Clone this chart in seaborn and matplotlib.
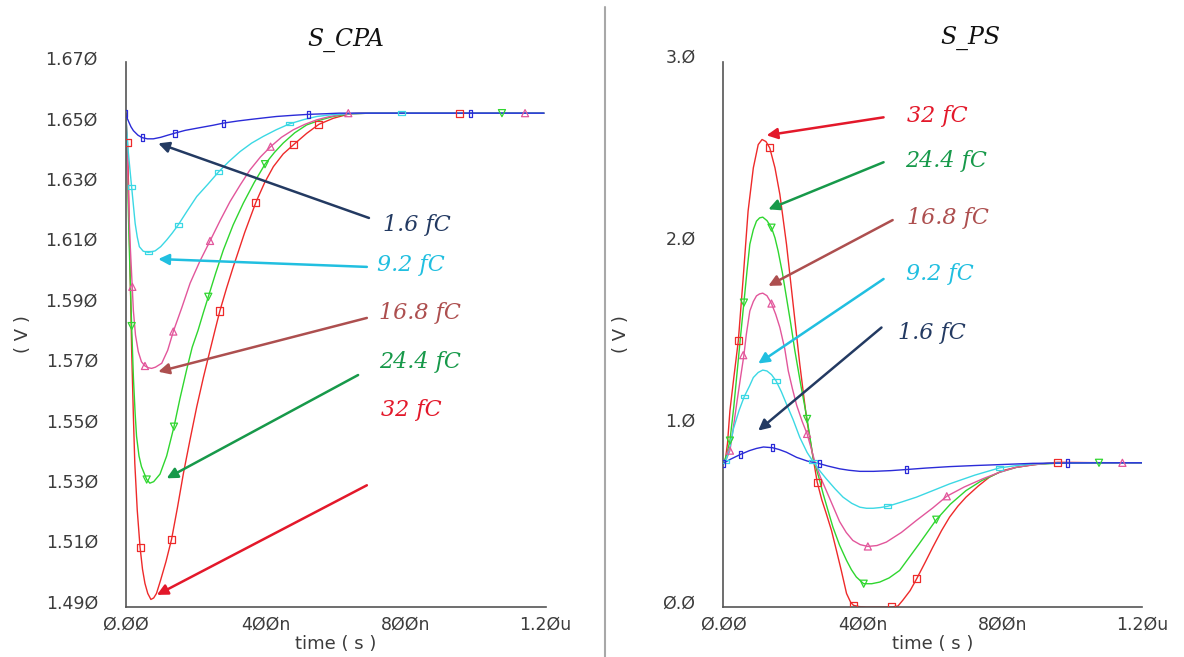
import pandas as pd
import matplotlib
matplotlib.use("Agg")
import matplotlib.pyplot as plt
import seaborn as sns
from matplotlib.ticker import FixedLocator, MultipleLocator
from matplotlib.transforms import ScaledTranslation
from matplotlib.lines import Line2D

# ---- S_CPA (left panel), time in ns, voltage in V ----
L_RED_T = [0, 3, 5, 8, 12, 17, 22, 26, 33, 41, 48, 55, 63, 72, 80, 88, 100, 115, 131, 148, 165, 184, 203,
           222, 241, 257, 269, 288, 307, 340, 372, 397, 422, 450, 479, 517, 552, 593, 641, 700, 800, 900,
           1000, 1100, 1195]
L_RED_V = [1.6535, 1.6480, 1.6437, 1.6300, 1.6050, 1.5750, 1.5530, 1.5376, 1.5220, 1.5098, 1.5025, 1.4978,
           1.4945, 1.4925, 1.4930, 1.4945, 1.4990, 1.5050, 1.5124, 1.5230, 1.5343, 1.5455, 1.5563, 1.5660,
           1.5750, 1.5825, 1.5880, 1.5955, 1.6025, 1.6140, 1.6240, 1.6305, 1.6358, 1.6400, 1.6430, 1.6468,
           1.6498, 1.6518, 1.6533, 1.6535, 1.6535, 1.6535, 1.6535, 1.6535, 1.6535]

L_GREEN_T = [0, 3, 6, 10, 14, 17, 22, 27, 31, 38, 45, 52, 60, 69, 80, 98, 117, 138, 155, 174, 190, 207, 222,
             236, 257, 279, 307, 336, 367, 398, 425, 450, 483, 517, 555, 593, 641, 700, 800, 900, 1000, 1100,
             1195]
L_GREEN_V = [1.6535, 1.6420, 1.6280, 1.6100, 1.5940, 1.5830, 1.5660, 1.5540, 1.5465, 1.5400, 1.5365, 1.5345,
             1.5322, 1.5310, 1.5315, 1.5340, 1.5400, 1.5497, 1.5590, 1.5685, 1.5760, 1.5817, 1.5875, 1.5927,
             1.6005, 1.6082, 1.6165, 1.6237, 1.6305, 1.6366, 1.6405, 1.6436, 1.6470, 1.6496, 1.6512, 1.6524,
             1.6533, 1.6535, 1.6535, 1.6535, 1.6535, 1.6535, 1.6535]

L_PINK_T = [0, 4, 8, 12, 17, 22, 28, 36, 45, 55, 65, 74, 85, 103, 120, 136, 160, 184, 212, 241, 270, 298,
            327, 355, 385, 414, 445, 479, 512, 546, 580, 612, 650, 700, 800, 900, 1000, 1100, 1195]
L_PINK_V = [1.6535, 1.6400, 1.6250, 1.6120, 1.6000, 1.5880, 1.5800, 1.5745, 1.5712, 1.5698, 1.5692, 1.5690,
            1.5694, 1.5707, 1.5750, 1.5812, 1.5890, 1.5972, 1.6045, 1.6112, 1.6180, 1.6242, 1.6297, 1.6347,
            1.6390, 1.6424, 1.6455, 1.6480, 1.6498, 1.6513, 1.6523, 1.6530, 1.6534, 1.6535, 1.6535, 1.6535,
            1.6535, 1.6535, 1.6535]

L_CYAN_T = [0, 3, 7, 12, 17, 22, 27, 33, 39, 50, 65, 84, 100, 117, 133, 150, 175, 203, 235, 265, 295, 327,
            360, 393, 430, 469, 510, 546, 590, 631, 700, 800, 900, 1000, 1100, 1195]
L_CYAN_V = [1.6535, 1.6480, 1.6411, 1.6350, 1.6290, 1.6230, 1.6170, 1.6125, 1.6093, 1.6078, 1.6074, 1.6079,
            1.6093, 1.6115, 1.6138, 1.6165, 1.6210, 1.6259, 1.6300, 1.6340, 1.6375, 1.6408, 1.6436, 1.6458,
            1.6480, 1.6500, 1.6514, 1.6524, 1.6530, 1.6533, 1.6535, 1.6535, 1.6535, 1.6535, 1.6535, 1.6535]

L_BLUE_T = [0, 3, 8, 15, 22, 35, 47, 62, 79, 100, 120, 141, 170, 212, 250, 279, 320, 355, 400, 431, 480,
            522, 570, 610, 700, 800, 900, 1000, 1100, 1195]
L_BLUE_V = [1.6535, 1.6522, 1.6508, 1.6490, 1.6477, 1.6462, 1.6454, 1.6450, 1.6450, 1.6455, 1.6462, 1.6469,
            1.6478, 1.6487, 1.6495, 1.6502, 1.6509, 1.6514, 1.6520, 1.6524, 1.6528, 1.6531, 1.6533, 1.6535,
            1.6535, 1.6535, 1.6535, 1.6535, 1.6535, 1.6535]

# marker points on the left panel
L_RED_MT = [5, 41, 131, 269, 372, 479, 552, 955]
L_RED_MV = [1.6437, 1.5098, 1.5124, 1.5880, 1.6240, 1.6430, 1.6498, 1.6535]
L_GREEN_MT = [17, 60, 138, 236, 398, 1075]
L_GREEN_MV = [1.5830, 1.5322, 1.5497, 1.5927, 1.6366, 1.6535]
L_PINK_MT = [19, 55, 136, 241, 414, 636, 1141]
L_PINK_MV = [1.5960, 1.5698, 1.5812, 1.6112, 1.6424, 1.6535, 1.6535]
L_CYAN_MT = [17, 65, 150, 265, 469, 789]
L_CYAN_MV = [1.6290, 1.6074, 1.6165, 1.6340, 1.6500, 1.6535]
L_BLUE_MT = [0, 47, 141, 279, 522, 986]
L_BLUE_MV = [1.6535, 1.6454, 1.6469, 1.6502, 1.6531, 1.6535]

# ---- S_PS (right panel) ----
R_RED_T = [0, 5, 12, 19, 30, 43, 57, 71, 86, 100, 111, 122, 133, 148, 162, 181, 200, 219, 238, 257, 269,
           282, 295, 310, 324, 338, 353, 365, 373, 390, 410, 440, 481, 500, 514, 535, 554, 578, 600, 625,
           648, 672, 695, 730, 762, 800, 838, 900, 957, 1050, 1200]
R_RED_V = [0.787, 0.796, 0.900, 1.080, 1.260, 1.464, 1.811, 2.177, 2.415, 2.543, 2.571, 2.560, 2.525, 2.415,
           2.269, 1.995, 1.665, 1.336, 1.043, 0.823, 0.686, 0.590, 0.513, 0.420, 0.311, 0.200, 0.074, 0.025,
           0.009, 0.002, 0.000, 0.000, 0.000, 0.005, 0.037, 0.090, 0.156, 0.245, 0.329, 0.420, 0.494, 0.555,
           0.604, 0.665, 0.714, 0.750, 0.768, 0.785, 0.796, 0.794, 0.793]

R_GREEN_T = [0, 10, 19, 30, 40, 50, 59, 68, 76, 86, 95, 104, 113, 125, 138, 148, 157, 169, 181, 193, 205,
             222, 240, 257, 274, 286, 300, 314, 333, 353, 367, 381, 402, 425, 448, 475, 505, 560, 610, 650,
             695, 740, 791, 840, 886, 950, 1076, 1200]
R_GREEN_V = [0.787, 0.840, 0.915, 1.100, 1.300, 1.500, 1.674, 1.850, 1.995, 2.075, 2.122, 2.140, 2.144,
             2.125, 2.086, 2.030, 1.958, 1.840, 1.701, 1.560, 1.409, 1.220, 1.034, 0.823, 0.710, 0.622, 0.530,
             0.439, 0.340, 0.256, 0.205, 0.165, 0.128, 0.128, 0.137, 0.160, 0.201, 0.345, 0.480, 0.565, 0.640,
             0.695, 0.741, 0.768, 0.783, 0.790, 0.793, 0.793]

R_PINK_T = [0, 8, 19, 29, 40, 50, 59, 66, 76, 86, 95, 104, 113, 125, 138, 150, 162, 176, 186, 198, 210,
            226, 240, 252, 262, 278, 295, 314, 333, 352, 371, 392, 414, 440, 467, 510, 553, 600, 640, 690,
            743, 790, 838, 886, 933, 1000, 1100, 1200]
R_PINK_V = [0.787, 0.810, 0.860, 0.990, 1.140, 1.270, 1.385, 1.500, 1.628, 1.680, 1.711, 1.722, 1.726,
            1.712, 1.669, 1.610, 1.537, 1.420, 1.299, 1.200, 1.110, 1.020, 0.952, 0.870, 0.800, 0.715, 0.640,
            0.555, 0.470, 0.410, 0.366, 0.343, 0.333, 0.338, 0.357, 0.410, 0.476, 0.545, 0.609, 0.660, 0.705,
            0.740, 0.768, 0.782, 0.790, 0.793, 0.793, 0.793]

R_CYAN_T = [0, 5, 10, 19, 29, 45, 60, 75, 86, 100, 113, 125, 138, 151, 166, 181, 200, 219, 240, 257, 278,
            295, 320, 343, 368, 391, 410, 429, 450, 471, 510, 553, 600, 648, 720, 791, 840, 886, 950, 1050,
            1200]
R_CYAN_V = [0.787, 0.800, 0.820, 0.880, 0.980, 1.080, 1.157, 1.215, 1.262, 1.290, 1.303, 1.298, 1.278,
            1.244, 1.185, 1.116, 1.030, 0.933, 0.850, 0.800, 0.745, 0.705, 0.650, 0.604, 0.570, 0.549, 0.543,
            0.543, 0.547, 0.554, 0.577, 0.604, 0.640, 0.677, 0.725, 0.765, 0.778, 0.787, 0.791, 0.793, 0.793]

R_BLUE_T = [0, 5, 20, 35, 50, 75, 95, 115, 141, 160, 181, 210, 240, 262, 276, 300, 333, 360, 391, 430, 480,
            524, 580, 648, 720, 791, 886, 986, 1100, 1200]
R_BLUE_V = [0.787, 0.796, 0.812, 0.826, 0.840, 0.860, 0.872, 0.880, 0.876, 0.866, 0.851, 0.823, 0.803,
            0.793, 0.788, 0.775, 0.760, 0.752, 0.746, 0.746, 0.750, 0.756, 0.764, 0.772, 0.778, 0.783, 0.790,
            0.792, 0.793, 0.793]

R_RED_MT = [43, 133, 269, 373, 481, 554, 957]
R_RED_MV = [1.464, 2.525, 0.686, 0.009, 0.000, 0.156, 0.796]
R_GREEN_MT = [19, 59, 138, 240, 402, 610, 1076]
R_GREEN_MV = [0.915, 1.674, 2.086, 1.034, 0.128, 0.480, 0.793]
R_PINK_MT = [19, 57, 138, 240, 414, 640, 1143]
R_PINK_MV = [0.860, 1.385, 1.669, 0.952, 0.333, 0.609, 0.793]
R_CYAN_MT = [5, 60, 151, 257, 471, 791]
R_CYAN_MV = [0.800, 1.157, 1.244, 0.800, 0.554, 0.765]
R_BLUE_MT = [0, 50, 141, 276, 524, 986]
R_BLUE_MV = [0.787, 0.840, 0.876, 0.788, 0.756, 0.792]

CHARGES = ['32 fC', '24.4 fC', '16.8 fC', '9.2 fC', '1.6 fC']
X_TICKS = [0, 400, 800, 1200]
X_TICK_LABELS = ['0.00', '400n', '800n', '1.20u']
L_YTICKS = [1.49, 1.51, 1.53, 1.55, 1.57, 1.59, 1.61, 1.63, 1.65, 1.67]
R_YTICKS = [0.0, 1.0, 2.0, 3.0]

LINE_COLORS = {'32 fC': '#ee2a2a', '24.4 fC': '#2fd62f', '16.8 fC': '#e2569b',
               '9.2 fC': '#3bd8e4', '1.6 fC': '#2b2bd8'}
LABEL_COLORS = {'32 fC': '#e3182a', '24.4 fC': '#17994a', '16.8 fC': '#ad4f4f',
                '9.2 fC': '#21bfe0', '1.6 fC': '#233a62'}
MARKERS = {'32 fC': 's', '24.4 fC': 'v', '16.8 fC': '^',
           '9.2 fC': [(-1, -0.5), (1, -0.5), (1, 0.5), (-1, 0.5), (-1, -0.5)],
           '1.6 fC': [(-0.45, -1), (0.45, -1), (0.45, 1), (-0.45, 1), (-0.45, -1)]}


def slashed(s):
    # the simulator font draws zeros with a slash
    return s.replace('0', 'Ø')


def long_frame(series):
    parts = []
    for name, (t, v) in series.items():
        parts.append(pd.DataFrame({'t': t, 'v': v, 'q': name}))
    return pd.concat(parts, ignore_index=True)


left_lines = long_frame({'32 fC': (L_RED_T, L_RED_V), '24.4 fC': (L_GREEN_T, L_GREEN_V),
                         '16.8 fC': (L_PINK_T, L_PINK_V), '9.2 fC': (L_CYAN_T, L_CYAN_V),
                         '1.6 fC': (L_BLUE_T, L_BLUE_V)})
left_marks = long_frame({'32 fC': (L_RED_MT, L_RED_MV), '24.4 fC': (L_GREEN_MT, L_GREEN_MV),
                         '16.8 fC': (L_PINK_MT, L_PINK_MV), '9.2 fC': (L_CYAN_MT, L_CYAN_MV),
                         '1.6 fC': (L_BLUE_MT, L_BLUE_MV)})
right_lines = long_frame({'32 fC': (R_RED_T, R_RED_V), '24.4 fC': (R_GREEN_T, R_GREEN_V),
                          '16.8 fC': (R_PINK_T, R_PINK_V), '9.2 fC': (R_CYAN_T, R_CYAN_V),
                          '1.6 fC': (R_BLUE_T, R_BLUE_V)})
right_marks = long_frame({'32 fC': (R_RED_MT, R_RED_MV), '24.4 fC': (R_GREEN_MT, R_GREEN_MV),
                          '16.8 fC': (R_PINK_MT, R_PINK_MV), '9.2 fC': (R_CYAN_MT, R_CYAN_MV),
                          '1.6 fC': (R_BLUE_MT, R_BLUE_MV)})

# arrow head, arrow tail and label anchor (data coordinates)
LEFT_NOTES = {'1.6 fC': ((93, 1.6435), (695, 1.6188), (735, 1.6165)),
              '9.2 fC': ((93, 1.6052), (689, 1.6026), (718, 1.6032)),
              '16.8 fC': ((93, 1.5679), (689, 1.5857), (724, 1.5874)),
              '24.4 fC': ((117, 1.5326), (664, 1.5668), (724, 1.5711)),
              '32 fC': ((89, 1.4940), (689, 1.5303), (729, 1.5552))}
RIGHT_NOTES = {'32 fC': ((124, 2.594), (459, 2.693), (525, 2.698)),
               '24.4 fC': ((129, 2.187), (459, 2.446), (522, 2.451)),
               '16.8 fC': ((129, 1.766), (485, 2.128), (525, 2.139)),
               '9.2 fC': ((100, 1.339), (459, 1.804), (522, 1.831)),
               '1.6 fC': ((100, 0.970), (453, 1.537), (499, 1.508))}

sns.set_style('white')
plt.rcParams['font.family'] = ['DejaVu Sans']
plt.rcParams['xtick.direction'] = 'in'
plt.rcParams['ytick.direction'] = 'in'

W, H = 1184, 657
fig = plt.figure(figsize=(W / 100, H / 100), dpi=100)
ax_l = fig.add_axes([125.7 / W, 1 - 607 / H, 420 / W, 545.5 / H])
ax_r = fig.add_axes([723.3 / W, 1 - 607 / H, 419 / W, 545.5 / H])

TICK_COLOR = '#3c3c3c'


def draw_panel(ax, lines, marks, notes, ylim, yticks, ylabels, yminor):
    sns.lineplot(data=lines, x='t', y='v', hue='q', hue_order=CHARGES, palette=LINE_COLORS,
                 sort=False, estimator=None, legend=False, lw=1.0, ax=ax)
    for name in CHARGES:
        sub = marks[marks['q'] == name]
        sns.scatterplot(x=sub['t'], y=sub['v'], marker=MARKERS[name], s=26, color=LINE_COLORS[name],
                        facecolor='none', edgecolor=LINE_COLORS[name], linewidth=0.9, ax=ax, zorder=3)
    for name, (head, tail, txt) in notes.items():
        ax.annotate('', xy=head, xytext=tail,
                    arrowprops=dict(arrowstyle='-|>', color=LABEL_COLORS[name], lw=1.8,
                                    mutation_scale=16, shrinkA=0, shrinkB=0))
        ax.text(txt[0], txt[1], name, color=LABEL_COLORS[name], fontsize=16, ha='left', va='center',
                family='DejaVu Serif', style='italic')

    ax.set_xlim(0, 1200)
    ax.set_ylim(*ylim)
    ax.xaxis.set_major_locator(FixedLocator(X_TICKS))
    ax.set_xticklabels([slashed(s) for s in X_TICK_LABELS])
    ax.xaxis.set_minor_locator(MultipleLocator(40))
    ax.yaxis.set_major_locator(FixedLocator(yticks))
    ax.set_yticklabels(ylabels)
    ax.yaxis.set_minor_locator(MultipleLocator(yminor))
    for side in ['top', 'right']:
        ax.spines[side].set_visible(False)
    for side in ['left', 'bottom']:
        ax.spines[side].set_color('#555555')
        ax.spines[side].set_linewidth(1.2)
    ax.tick_params(which='major', length=7, width=1.1, color='#555555', labelsize=12.5,
                   labelcolor=TICK_COLOR)
    ax.tick_params(which='minor', length=4, width=0.9, color='#777777')
    ax.tick_params(axis='y', which='major', pad=20)
    ax.tick_params(axis='x', which='major', pad=6)
    ax.set_xlabel('time ( s )', fontsize=13, color=TICK_COLOR)
    ax.set_ylabel('( V )', fontsize=13, color=TICK_COLOR)
    ax.xaxis.set_label_coords(0.5, -0.052)
    ax.yaxis.set_label_coords(-0.222, 0.5)
    ax.set_facecolor('white')
    # labels sit a little above their ticks in the original
    lift = ScaledTranslation(0, 4 / 72, fig.dpi_scale_trans)
    for lab in ax.get_yticklabels():
        lab.set_transform(lab.get_transform() + lift)


draw_panel(ax_l, left_lines, left_marks, LEFT_NOTES, (1.49, 1.6706), L_YTICKS,
           [slashed(f'{v:.3f}') for v in L_YTICKS], 0.004)
draw_panel(ax_r, right_lines, right_marks, RIGHT_NOTES, (0, 3.0), R_YTICKS,
           [slashed(f'{v:.1f}') for v in R_YTICKS], 0.1)

fig.text(346 / W, 1 - 40 / H, 'S_CPA', fontsize=17, ha='center', va='center',
         family='DejaVu Serif', style='italic', color='#111111')
fig.text(970 / W, 1 - 38 / H, 'S_PS', fontsize=17, ha='center', va='center',
         family='DejaVu Serif', style='italic', color='#111111')

# thin divider between the two screenshots
fig.add_artist(Line2D([605 / W, 605 / W], [0.0, 0.99], transform=fig.transFigure,
                      color='#a8a8a8', lw=1.5))

fig.savefig('out.png', dpi=100)
